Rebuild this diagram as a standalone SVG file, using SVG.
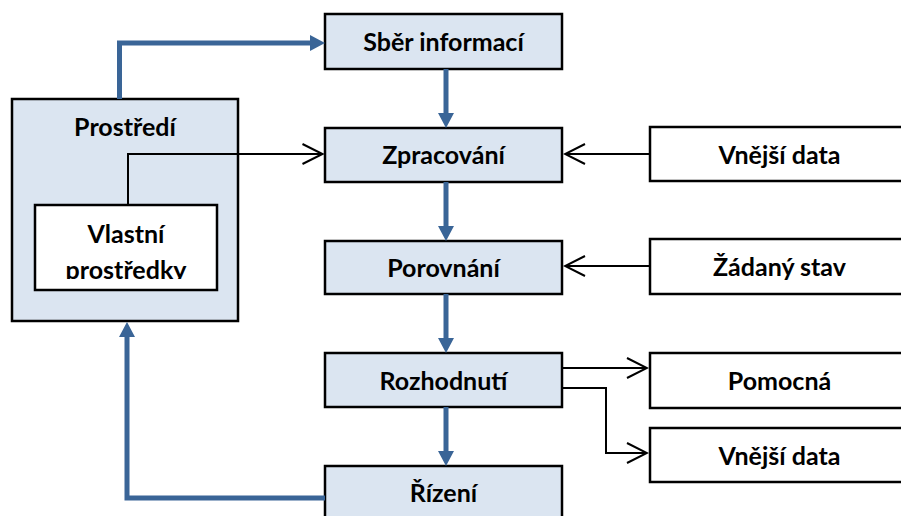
<svg xmlns="http://www.w3.org/2000/svg" width="901" height="516" viewBox="0 0 901 516">
  <style>
    .box { stroke: #000; stroke-width: 2.5; }
    .blue { fill: #DBE5F1; }
    .white { fill: #fff; }
    .lbl { font-family: Lato, "Liberation Sans", sans-serif; font-weight: bold; font-size: 25px; fill: #000; text-anchor: middle; }
    .flow { fill: none; stroke: #3A6597; stroke-width: 5; }
    .data { fill: none; stroke: #000; stroke-width: 2; }
  </style>
  <defs>
    <marker id="headBlue" markerUnits="userSpaceOnUse" viewBox="0 0 15 16" refX="3" refY="8" markerWidth="15" markerHeight="16" orient="auto">
      <path d="M0,0 L15,8 L0,16 z" fill="#3A6597"/>
    </marker>
    <marker id="headOpen" markerUnits="userSpaceOnUse" viewBox="-2 -2 24 24" refX="20" refY="10" markerWidth="24" markerHeight="24" orient="auto">
      <path d="M0,0 L20,10 L0,20" fill="none" stroke="#000" stroke-width="2"/>
    </marker>
    <!-- the lower line of the inner label is cut at the box padding -->
    <clipPath id="innerClip">
      <rect x="36" y="206" width="180" height="73"/>
    </clipPath>
  </defs>

  <!-- left: environment with own resources -->
  <g id="prostredi">
    <rect class="box blue" x="12" y="99" width="226" height="222"/>
    <text class="lbl" x="125" y="136">Prostředí</text>
  </g>
  <g id="vlastni-prostredky">
    <rect class="box white" x="35" y="205" width="182" height="85"/>
    <g clip-path="url(#innerClip)">
      <text class="lbl" x="126" y="243">Vlastní</text>
      <text class="lbl" x="126" y="278.5">prostředky</text>
    </g>
  </g>

  <!-- central chain -->
  <g id="sber">
    <rect class="box blue" x="325" y="14" width="237" height="55"/>
    <text class="lbl" x="443.5" y="51">Sběr informací</text>
  </g>
  <g id="zpracovani">
    <rect class="box blue" x="325" y="128" width="237" height="54"/>
    <text class="lbl" x="443.5" y="164">Zpracování</text>
  </g>
  <g id="porovnani">
    <rect class="box blue" x="325" y="241" width="237" height="53"/>
    <text class="lbl" x="443.5" y="276.5">Porovnání</text>
  </g>
  <g id="rozhodnuti">
    <rect class="box blue" x="325" y="353" width="237" height="54"/>
    <text class="lbl" x="443.5" y="389.5">Rozhodnutí</text>
  </g>
  <g id="rizeni">
    <rect class="box blue" x="325" y="466" width="237" height="55"/>
    <text class="lbl" x="443.5" y="502">Řízení</text>
  </g>

  <!-- right: external inputs and outputs -->
  <g id="vnejsi-data-vstup">
    <rect class="box white" x="650" y="127" width="259" height="54"/>
    <text class="lbl" x="779.5" y="163.5">Vnější data</text>
  </g>
  <g id="zadany-stav">
    <rect class="box white" x="650" y="239" width="259" height="55"/>
    <text class="lbl" x="779.5" y="275.5">Žádaný stav</text>
  </g>
  <g id="pomocna">
    <rect class="box white" x="650" y="353" width="259" height="55"/>
    <text class="lbl" x="779.5" y="389.5">Pomocná</text>
  </g>
  <g id="vnejsi-data-vystup">
    <rect class="box white" x="650" y="428" width="259" height="54"/>
    <text class="lbl" x="779.5" y="464.5">Vnější data</text>
  </g>

  <!-- connectors -->
  <g id="connectors">
    <path class="flow" d="M119.5,99 V43 H313" marker-end="url(#headBlue)"/>
    <path class="flow" d="M446,69 V116" marker-end="url(#headBlue)"/>
    <path class="flow" d="M446,182 V229" marker-end="url(#headBlue)"/>
    <path class="flow" d="M446,294 V341" marker-end="url(#headBlue)"/>
    <path class="flow" d="M446,407 V454" marker-end="url(#headBlue)"/>
    <path class="flow" d="M325,498 H127 V334" marker-end="url(#headBlue)"/>

    <path class="data" d="M128,205 V154 H322.5" marker-end="url(#headOpen)"/>
    <path class="data" d="M650,154 H565" marker-end="url(#headOpen)"/>
    <path class="data" d="M650,266 H565" marker-end="url(#headOpen)"/>
    <path class="data" d="M562,368 H647" marker-end="url(#headOpen)"/>
    <path class="data" d="M562,388 H606 V453 H647" marker-end="url(#headOpen)"/>
  </g>
</svg>
